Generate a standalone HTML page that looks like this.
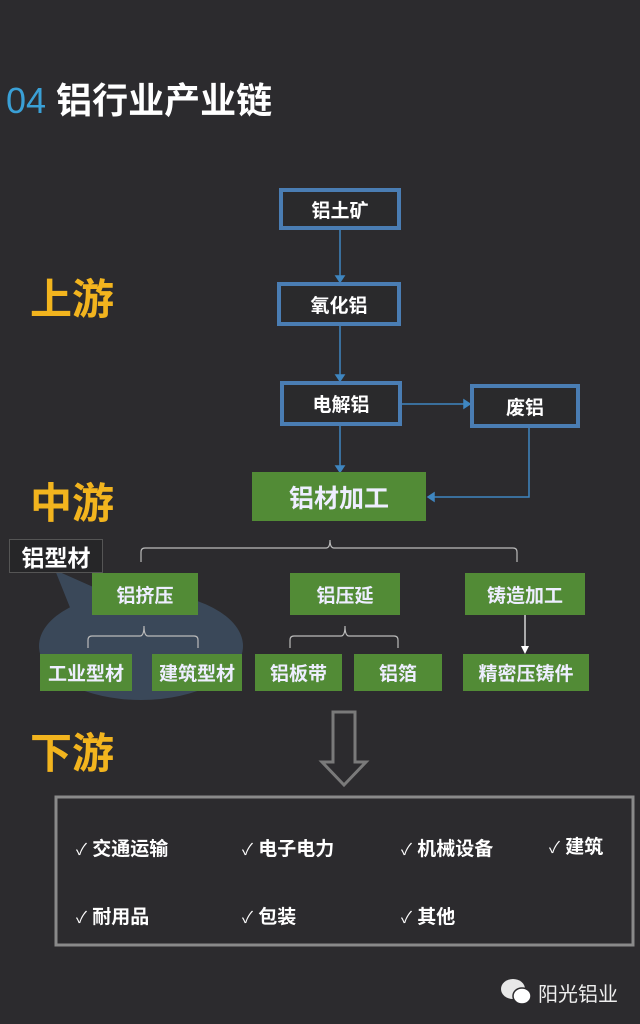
<!DOCTYPE html>
<html><head><meta charset="utf-8"><style>
body{margin:0;width:640px;height:1024px;background:#2c2b2e;position:relative;overflow:hidden;font-family:"Liberation Sans","Noto Sans CJK SC",sans-serif;color:#fff}
.a{position:absolute;box-sizing:border-box;display:flex;align-items:center;justify-content:center;font-weight:bold}
.b{border:4px solid #4a7db3;background:#2a2a2c;font-size:19px}
.g{background:#528b36;font-size:19px;color:#eef}
.y{position:absolute;color:#f2b41e;font-weight:bold;font-size:42px;font-family:"Noto Sans CJK SC",sans-serif}
.t{position:absolute;font-size:19px;font-weight:bold}
</style></head><body>
<div style="position:absolute;left:6px;top:72px;font-size:36px;white-space:nowrap"><span style="color:#3aa0d6">04</span> <b style="font-family:'Noto Sans CJK SC',sans-serif">铝行业产业链</b></div>
<div class="y" style="left:30px;top:266px">上游</div>
<div class="y" style="left:30px;top:470px">中游</div>
<div class="y" style="left:30px;top:720px">下游</div>
<svg width="640" height="1024" style="position:absolute;left:0;top:0">
<g stroke="#3f86c0" stroke-width="1.5" fill="#3f86c0">
<line x1="340" y1="229" x2="340" y2="276"/><polygon points="336,276 344,276 340,282"/>
<line x1="340" y1="325" x2="340" y2="375"/><polygon points="336,375 344,375 340,381"/>
<line x1="340" y1="425" x2="340" y2="466"/><polygon points="336,466 344,466 340,472"/>
<line x1="401" y1="404" x2="464" y2="404"/><polygon points="464,400 464,408 470,404"/>
<polyline points="529,427 529,497 434,497" fill="none"/><polygon points="434,493 434,501 428,497"/>
</g>
<ellipse cx="141" cy="646" rx="102" ry="54" fill="#3a4859"/>
<polygon points="55,570 100,590 75,620" fill="#3a4859"/>
<g stroke="#bbb" stroke-width="1.2" fill="none">
<path d="M141,562 V552 Q141,548 145,548 H326 Q330,548 330,540 Q330,548 334,548 H513 Q517,548 517,552 V562"/>
<path d="M88,648 V640 Q88,636 92,636 H140 Q144,636 144,626 Q144,636 148,636 H194 Q198,636 198,640 V648"/>
<path d="M290,648 V640 Q290,636 294,636 H341 Q345,636 345,626 Q345,636 349,636 H394 Q398,636 398,640 V648"/>
<line x1="525" y1="615" x2="525" y2="648" stroke="#fff"/>
</g>
<polygon points="521,646 529,646 525,654" fill="#fff"/>
<polygon points="333,712 355,712 355,762 366,762 344,785 322,762 333,762" fill="none" stroke="#7a7a7a" stroke-width="3"/>
<rect x="56" y="797" width="577" height="148" fill="none" stroke="#8a8a8a" stroke-width="3"/>
<g fill="#e8e8e8"><ellipse cx="513" cy="989" rx="12" ry="10"/><ellipse cx="522" cy="996" rx="9" ry="8" fill="#fff" stroke="#2c2b2e" stroke-width="1.5"/></g>
</svg>
<div class="a b" style="left:279px;top:188px;width:122px;height:42px">铝土矿</div>
<div class="a b" style="left:277px;top:282px;width:124px;height:44px">氧化铝</div>
<div class="a b" style="left:280px;top:381px;width:122px;height:45px">电解铝</div>
<div class="a b" style="left:470px;top:384px;width:110px;height:44px">废铝</div>
<div class="a g" style="left:252px;top:472px;width:174px;height:49px;font-size:25px">铝材加工</div>
<div class="a" style="left:9px;top:539px;width:94px;height:34px;background:#262628;border:1px solid #555;font-size:23px">铝型材</div>
<div class="a g" style="left:92px;top:573px;width:106px;height:42px">铝挤压</div>
<div class="a g" style="left:290px;top:573px;width:110px;height:42px">铝压延</div>
<div class="a g" style="left:465px;top:573px;width:120px;height:42px">铸造加工</div>
<div class="a g" style="left:40px;top:654px;width:92px;height:37px">工业型材</div>
<div class="a g" style="left:152px;top:654px;width:90px;height:37px">建筑型材</div>
<div class="a g" style="left:255px;top:654px;width:87px;height:37px">铝板带</div>
<div class="a g" style="left:354px;top:654px;width:88px;height:37px">铝箔</div>
<div class="a g" style="left:463px;top:654px;width:126px;height:37px">精密压铸件</div>
<div class="t" style="left:76px;top:834px"><span style="font-weight:normal;font-size:16px">✓</span> 交通运输</div>
<div class="t" style="left:242px;top:834px"><span style="font-weight:normal;font-size:16px">✓</span> 电子电力</div>
<div class="t" style="left:401px;top:834px"><span style="font-weight:normal;font-size:16px">✓</span> 机械设备</div>
<div class="t" style="left:549px;top:832px"><span style="font-weight:normal;font-size:16px">✓</span> 建筑</div>
<div class="t" style="left:76px;top:902px"><span style="font-weight:normal;font-size:16px">✓</span> 耐用品</div>
<div class="t" style="left:242px;top:902px"><span style="font-weight:normal;font-size:16px">✓</span> 包装</div>
<div class="t" style="left:401px;top:902px"><span style="font-weight:normal;font-size:16px">✓</span> 其他</div>
<div style="position:absolute;left:538px;top:978px;font-size:20px;color:#eee">阳光铝业</div>
</body></html>
